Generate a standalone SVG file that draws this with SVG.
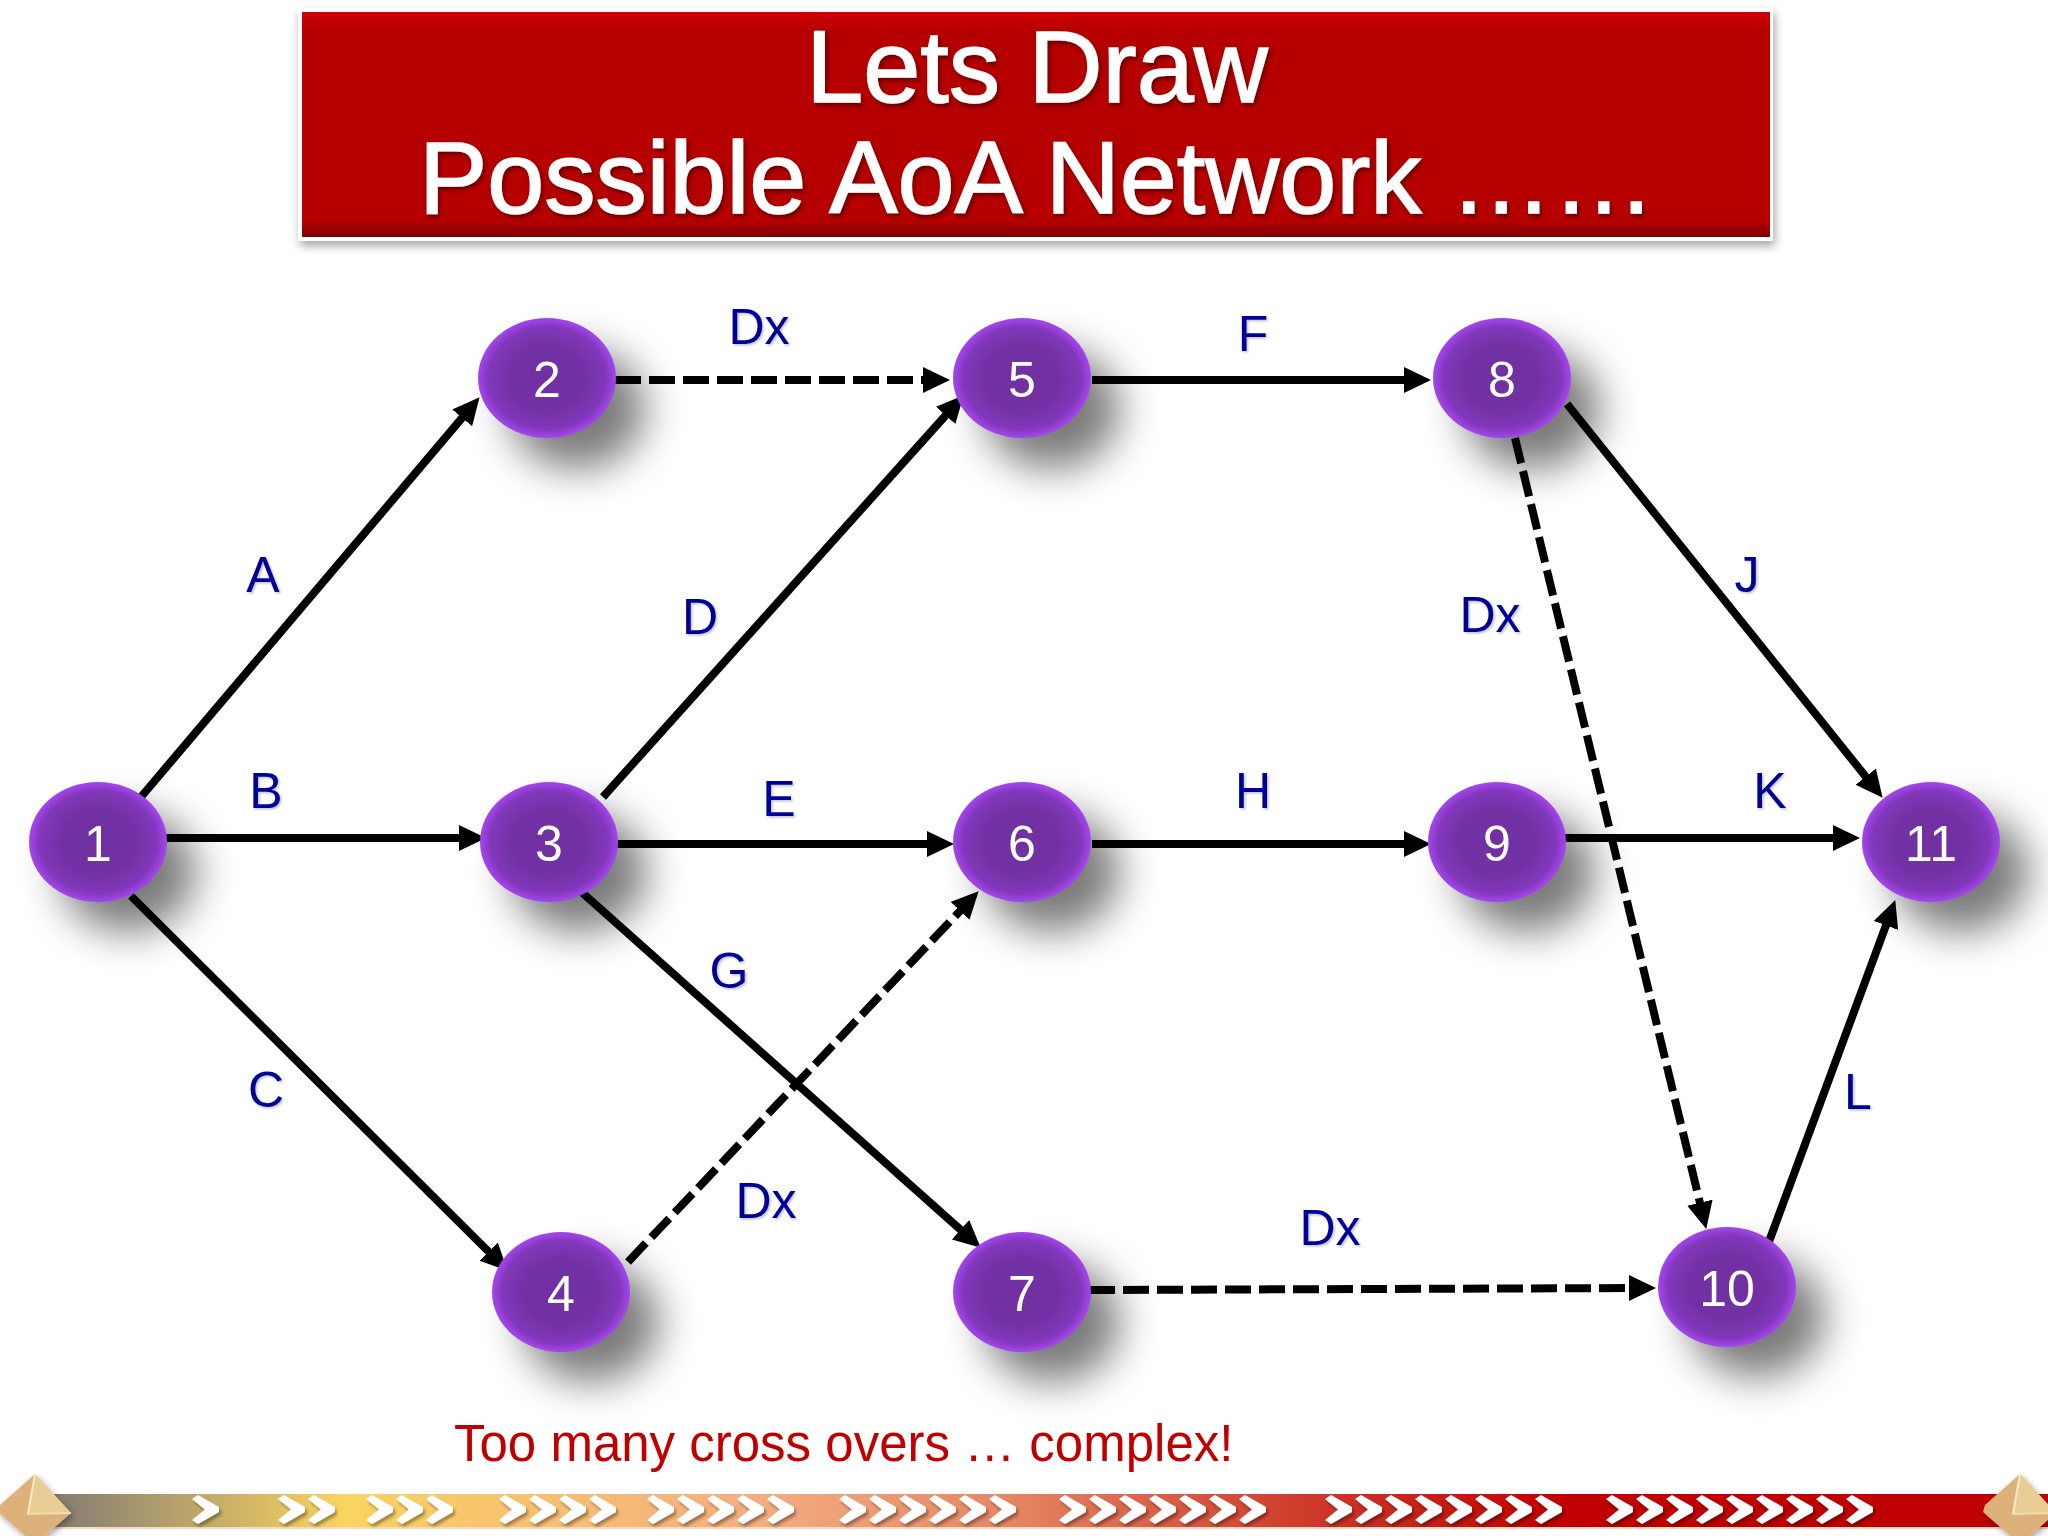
<svg xmlns="http://www.w3.org/2000/svg" xmlns:xlink="http://www.w3.org/1999/xlink" width="2048" height="1536" viewBox="0 0 2048 1536">
<defs>
<radialGradient id="nodeFill" cx="50%" cy="50%" r="50%">
<stop offset="0" stop-color="#7030a0"/><stop offset="0.55" stop-color="#7232a6"/><stop offset="0.85" stop-color="#8237ba"/><stop offset="1" stop-color="#a446ee"/>
</radialGradient>
<linearGradient id="titleFill" x1="0" y1="0" x2="0" y2="1">
<stop offset="0" stop-color="#d00000"/><stop offset="0.08" stop-color="#b60000"/><stop offset="0.93" stop-color="#b60000"/><stop offset="1" stop-color="#7e0000"/>
</linearGradient>
<linearGradient id="barFill" gradientUnits="userSpaceOnUse" x1="70" y1="0" x2="1640" y2="0">
<stop offset="0" stop-color="#8a8172"/><stop offset="0.175" stop-color="#fad45f"/><stop offset="0.26" stop-color="#f8c56c"/><stop offset="0.44" stop-color="#f3ad80"/><stop offset="0.6" stop-color="#e58563"/><stop offset="0.78" stop-color="#cf3d2c"/><stop offset="0.95" stop-color="#c00000"/><stop offset="1" stop-color="#c00000"/>
</linearGradient>
<filter id="blur16" x="-60%" y="-60%" width="220%" height="220%"><feGaussianBlur stdDeviation="20"/></filter>
<filter id="rectShadow" x="-3%" y="-10%" width="106%" height="125%"><feDropShadow dx="2" dy="5" stdDeviation="5" flood-color="#000" flood-opacity="0.35"/></filter>
<filter id="textShadow" x="-5%" y="-20%" width="110%" height="140%"><feDropShadow dx="2" dy="3" stdDeviation="2" flood-color="#300" flood-opacity="0.6"/></filter>
<filter id="labelShadow" x="-20%" y="-20%" width="150%" height="150%"><feDropShadow dx="1.5" dy="1.5" stdDeviation="1" flood-color="#000" flood-opacity="0.25"/></filter>
<filter id="chevShadow" x="-2%" y="-20%" width="104%" height="150%"><feDropShadow dx="2" dy="3" stdDeviation="1.5" flood-color="#000" flood-opacity="0.35"/></filter>
<filter id="gemShadow" x="-30%" y="-30%" width="160%" height="160%"><feDropShadow dx="2" dy="3" stdDeviation="3" flood-color="#000" flood-opacity="0.35"/></filter>
<marker id="arrow" markerUnits="userSpaceOnUse" markerWidth="30" markerHeight="30" refX="14" refY="13" orient="auto"><path d="M0,0 L27,13 L0,26 Z" fill="#000"/></marker>
<path id="chev" d="M0,4 L6,0 L27,12 L27,17 L6,29 L0,25 L13,14.5 Z" fill="#fff"/>
<g id="gem">
<path d="M35,1474 L0,1505 L-2,1512 L30,1540 L40,1540 L71,1513 Z" fill="#dcb27a"/>
<path d="M35,1474 L27,1514 L71,1513 Z" fill="#e9cd94"/>
<path d="M35,1474 L28,1514" stroke="#f8e8c4" stroke-width="2" fill="none"/>
<path d="M27,1514 L71,1513" stroke="#f3dcae" stroke-width="2" fill="none"/>
</g>
</defs>
<style>
.edge{fill:none;stroke:#000;stroke-width:8;marker-end:url(#arrow)}
.dash{stroke-dasharray:26 8;stroke-width:8}
.shadow{fill:#000;fill-opacity:.52;filter:url(#blur16)}
.body{fill:url(#nodeFill)}
.num{font-family:"Liberation Sans",Arial,sans-serif;font-size:50px;fill:#fff;text-anchor:middle}
.lab{font-family:"Liberation Sans",Arial,sans-serif;font-size:50px;fill:#000099;text-anchor:middle;filter:url(#labelShadow)}
.title{font-family:"Liberation Sans",Arial,sans-serif;font-size:102.5px;fill:#fff;stroke:#fff;stroke-width:1.5px;text-anchor:middle;filter:url(#textShadow)}
</style>
<rect width="2048" height="1536" fill="#fff"/>

<g id="title">
<rect x="298" y="8" width="1475" height="233" fill="#fff" filter="url(#rectShadow)"/>
<rect x="302" y="12" width="1468" height="225" fill="url(#titleFill)"/>
<text class="title" x="1037" y="102">Lets Draw</text>
<text class="title" x="1037" y="213">Possible AoA Network ……</text>
</g>

<g id="node-shadows">
<ellipse class="shadow" cx="577" cy="409" rx="68" ry="60"/>
<ellipse class="shadow" cx="1052" cy="409" rx="68" ry="60"/>
<ellipse class="shadow" cx="1532" cy="409" rx="68" ry="60"/>
<ellipse class="shadow" cx="128" cy="872" rx="68" ry="60"/>
<ellipse class="shadow" cx="579" cy="872" rx="68" ry="60"/>
<ellipse class="shadow" cx="1052" cy="872" rx="68" ry="60"/>
<ellipse class="shadow" cx="1527" cy="872" rx="68" ry="60"/>
<ellipse class="shadow" cx="1961" cy="872" rx="68" ry="60"/>
<ellipse class="shadow" cx="591" cy="1322" rx="68" ry="60"/>
<ellipse class="shadow" cx="1052" cy="1322" rx="68" ry="60"/>
<ellipse class="shadow" cx="1757" cy="1317" rx="68" ry="60"/>
</g>

<g id="connectors">
<line class="edge" x1="141" y1="797" x2="471.2" y2="407.2"/>
<line class="edge" x1="157" y1="838" x2="473" y2="838"/>
<line class="edge" x1="131" y1="896" x2="498.5" y2="1261.5"/>
<line class="edge dash" x1="615" y1="380" x2="937" y2="380"/>
<line class="edge" x1="603" y1="797" x2="955" y2="405"/>
<line class="edge" x1="615" y1="844" x2="941" y2="844"/>
<line class="edge" x1="577" y1="888" x2="971" y2="1239"/>
<line class="edge dash" x1="628" y1="1262" x2="969.7" y2="900.7"/>
<line class="edge" x1="1092" y1="380" x2="1418" y2="380"/>
<line class="edge" x1="1092" y1="844" x2="1418" y2="844"/>
<line class="edge dash" x1="1515" y1="438" x2="1703.2" y2="1216.3"/>
<line class="edge" x1="1567" y1="404" x2="1874.5" y2="787.6"/>
<line class="edge" x1="1565" y1="838" x2="1847" y2="838"/>
<line class="edge" x1="1767" y1="1247" x2="1890.8" y2="912.3"/>
<line class="edge dash" x1="1089" y1="1290" x2="1643" y2="1288"/>
</g>

<g id="node-1"><ellipse class="body" cx="98" cy="842" rx="69" ry="60"/><text class="num" x="98" y="861">1</text></g>
<g id="node-2"><ellipse class="body" cx="547" cy="378" rx="69" ry="60"/><text class="num" x="547" y="397">2</text></g>
<g id="node-3"><ellipse class="body" cx="549" cy="842" rx="69" ry="60"/><text class="num" x="549" y="861">3</text></g>
<g id="node-4"><ellipse class="body" cx="561" cy="1292" rx="69" ry="60"/><text class="num" x="561" y="1311">4</text></g>
<g id="node-5"><ellipse class="body" cx="1022" cy="378" rx="69" ry="60"/><text class="num" x="1022" y="397">5</text></g>
<g id="node-6"><ellipse class="body" cx="1022" cy="842" rx="69" ry="60"/><text class="num" x="1022" y="861">6</text></g>
<g id="node-7"><ellipse class="body" cx="1022" cy="1292" rx="69" ry="60"/><text class="num" x="1022" y="1311">7</text></g>
<g id="node-8"><ellipse class="body" cx="1502" cy="378" rx="69" ry="60"/><text class="num" x="1502" y="397">8</text></g>
<g id="node-9"><ellipse class="body" cx="1497" cy="842" rx="69" ry="60"/><text class="num" x="1497" y="861">9</text></g>
<g id="node-10"><ellipse class="body" cx="1727" cy="1287" rx="69" ry="60"/><text class="num" x="1727" y="1306">10</text></g>
<g id="node-11"><ellipse class="body" cx="1931" cy="842" rx="69" ry="60"/><text class="num" x="1931" y="861">11</text></g>

<g id="labels">
<text class="lab" x="263" y="592">A</text>
<text class="lab" x="266" y="808">B</text>
<text class="lab" x="266" y="1107">C</text>
<text class="lab" x="700" y="634">D</text>
<text class="lab" x="779" y="816">E</text>
<text class="lab" x="729" y="988">G</text>
<text class="lab" x="1253" y="351">F</text>
<text class="lab" x="1253" y="808">H</text>
<text class="lab" x="1747" y="592">J</text>
<text class="lab" x="1770" y="808">K</text>
<text class="lab" x="1858" y="1109">L</text>
<text class="lab" x="759" y="344">Dx</text>
<text class="lab" x="1490" y="632">Dx</text>
<text class="lab" x="766" y="1218">Dx</text>
<text class="lab" x="1330" y="1245">Dx</text>
</g>

<text id="note" x="454" y="1461" font-family="'Liberation Sans',Arial,sans-serif" font-size="51" fill="#c00000">Too many cross overs … complex!</text>

<g id="bar">
<rect x="40" y="1494" width="2008" height="33" fill="url(#barFill)"/>
<rect x="40" y="1527" width="2008" height="2" fill="#f6dcc0"/>
<g filter="url(#chevShadow)">
<use href="#chev" x="192" y="1495"/>
<use href="#chev" x="278" y="1495"/><use href="#chev" x="308" y="1495"/>
<use href="#chev" x="366" y="1495"/><use href="#chev" x="396" y="1495"/><use href="#chev" x="426" y="1495"/>
<use href="#chev" x="499" y="1495"/><use href="#chev" x="529" y="1495"/><use href="#chev" x="559" y="1495"/><use href="#chev" x="589" y="1495"/>
<use href="#chev" x="647" y="1495"/><use href="#chev" x="677" y="1495"/><use href="#chev" x="707" y="1495"/><use href="#chev" x="737" y="1495"/><use href="#chev" x="767" y="1495"/>
<use href="#chev" x="839" y="1495"/><use href="#chev" x="869" y="1495"/><use href="#chev" x="899" y="1495"/><use href="#chev" x="929" y="1495"/><use href="#chev" x="959" y="1495"/><use href="#chev" x="989" y="1495"/>
<use href="#chev" x="1059" y="1495"/><use href="#chev" x="1089" y="1495"/><use href="#chev" x="1119" y="1495"/><use href="#chev" x="1149" y="1495"/><use href="#chev" x="1179" y="1495"/><use href="#chev" x="1209" y="1495"/><use href="#chev" x="1239" y="1495"/>
<use href="#chev" x="1325" y="1495"/><use href="#chev" x="1355" y="1495"/><use href="#chev" x="1385" y="1495"/><use href="#chev" x="1415" y="1495"/><use href="#chev" x="1445" y="1495"/><use href="#chev" x="1475" y="1495"/><use href="#chev" x="1505" y="1495"/><use href="#chev" x="1535" y="1495"/>
<use href="#chev" x="1606" y="1495"/><use href="#chev" x="1636" y="1495"/><use href="#chev" x="1666" y="1495"/><use href="#chev" x="1696" y="1495"/><use href="#chev" x="1726" y="1495"/><use href="#chev" x="1756" y="1495"/><use href="#chev" x="1786" y="1495"/><use href="#chev" x="1816" y="1495"/><use href="#chev" x="1846" y="1495"/>
</g>
<use href="#gem" filter="url(#gemShadow)"/>
<use href="#gem" x="1985" filter="url(#gemShadow)"/>
</g>
</svg>
